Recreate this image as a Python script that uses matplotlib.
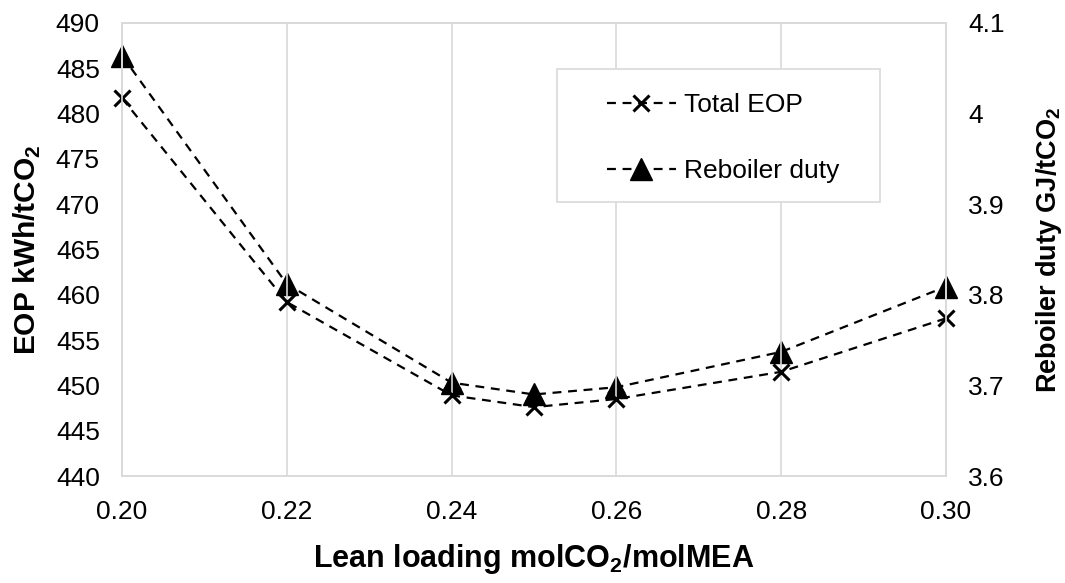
import matplotlib
matplotlib.use('Agg')
import matplotlib.pyplot as plt
from matplotlib.patches import Rectangle
from matplotlib.ticker import FuncFormatter, MultipleLocator

plt.rcParams['font.family'] = ['Liberation Sans', 'DejaVu Sans']
plt.rcParams['mathtext.fontset'] = 'custom'
plt.rcParams['mathtext.rm'] = 'Liberation Sans'
plt.rcParams['mathtext.bf'] = 'Liberation Sans:bold'

# lean loading (molCO2/molMEA)
lean_loading = [0.20, 0.22, 0.24, 0.25, 0.26, 0.28, 0.30]
# total EOP kWh/tCO2 (left axis)
total_eop = [481.7, 459.2, 448.9, 447.6, 448.5, 451.5, 457.4]
# reboiler duty GJ/tCO2 (right axis)
reboiler_duty = [4.064, 3.812, 3.703, 3.690, 3.698, 3.737, 3.809]

x_ticks = [0.20, 0.22, 0.24, 0.26, 0.28, 0.30]

fs = 19
fig = plt.figure(figsize=(10.65, 5.83), dpi=100)
ax = fig.add_axes([122/1065, 1-476/583, (946-122)/1065, (476-23)/583])
ax2 = ax.twinx()

grid_col = '#d9d9d9'
l1, = ax.plot(lean_loading, total_eop, color='black', ls='--', lw=1.6,
              marker='x', ms=12, mew=2.2, label='Total EOP', dashes=(4, 3),
              clip_on=False)
l2, = ax2.plot(lean_loading, reboiler_duty, color='black', ls='--', lw=1.6,
               marker='^', ms=16, label='Reboiler duty', dashes=(4, 3),
               clip_on=False)

ax.set_xlim(0.20, 0.30)
ax.set_ylim(440, 490)
ax2.set_ylim(3.6, 4.1)
ax.set_xticks(x_ticks)
ax.xaxis.set_major_formatter(FuncFormatter(lambda v, p: '%.2f' % v))
ax.yaxis.set_major_locator(MultipleLocator(5))
ax2.yaxis.set_major_locator(MultipleLocator(0.1))
ax2.yaxis.set_major_formatter(FuncFormatter(lambda v, p: '%g' % round(v, 2)))

ax.grid(axis='x', color=grid_col, lw=1.2)
ax.set_axisbelow(True)
for a in (ax, ax2):
    for s in a.spines.values():
        s.set_color(grid_col)
        s.set_linewidth(1.2)
    a.tick_params(length=0, labelsize=fs, colors='black', pad=16)
ax.tick_params(axis='x', pad=17)

ax.set_xlabel(r'Lean loading molCO$_\mathbf{2}$/molMEA', fontsize=22,
              fontweight='bold', labelpad=13)
ax.set_ylabel(r'EOP kWh/tCO$_\mathbf{2}$', fontsize=21.5, fontweight='bold', labelpad=9)
ax2.set_ylabel(r'Reboiler duty GJ/tCO$_\mathbf{2}$', fontsize=19.5,
               fontweight='bold', labelpad=21)

# legend box drawn by hand, entries placed inside it
fig.patches.append(Rectangle((557/1065, 1-202/583), (880-557)/1065, (202-69)/583,
                             transform=fig.transFigure, facecolor='white',
                             edgecolor=grid_col, lw=1.2, zorder=4))
leg = fig.legend([l1, l2], ['Total EOP', 'Reboiler duty'], loc='upper left',
                 bbox_to_anchor=(607/1065, 1-93/583), fontsize=fs,
                 handlelength=2.6, labelspacing=1.6, borderpad=0,
                 handletextpad=0.3, borderaxespad=0, frameon=False)
leg.set_zorder(5)
ax.set_zorder(ax2.get_zorder() + 1)
ax.patch.set_visible(False)

fig.savefig('out.png', dpi=100)
